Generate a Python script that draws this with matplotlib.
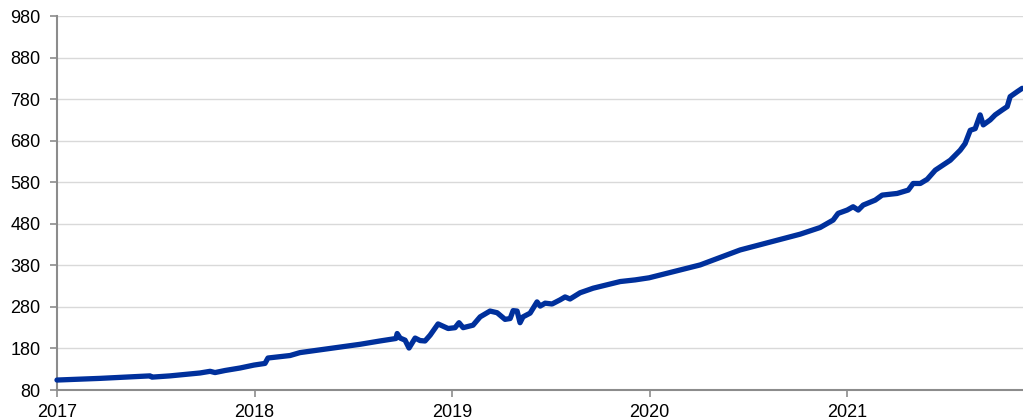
import matplotlib
matplotlib.use("Agg")
import matplotlib.pyplot as plt

plt.rcParams['font.family'] = ['Liberation Sans', 'DejaVu Sans']

# decimal-year positions and index values
years = [2017.000, 2017.218, 2017.471, 2017.481, 2017.572, 2017.724, 2017.775, 2017.800,
         2017.851, 2017.927, 2017.997, 2018.053, 2018.068, 2018.180, 2018.230, 2018.382,
         2018.534, 2018.635, 2018.716, 2018.722, 2018.737, 2018.762, 2018.782, 2018.813,
         2018.838, 2018.863, 2018.889, 2018.929, 2018.980, 2019.015, 2019.035, 2019.056,
         2019.106, 2019.142, 2019.192, 2019.228, 2019.268, 2019.294, 2019.309, 2019.329,
         2019.344, 2019.359, 2019.395, 2019.430, 2019.446, 2019.471, 2019.506, 2019.547,
         2019.572, 2019.597, 2019.648, 2019.714, 2019.851, 2019.927, 2019.997, 2020.256,
         2020.458, 2020.610, 2020.762, 2020.863, 2020.929, 2020.954, 2021.000, 2021.030,
         2021.056, 2021.081, 2021.142, 2021.177, 2021.253, 2021.309, 2021.334, 2021.370,
         2021.405, 2021.446, 2021.522, 2021.572, 2021.597, 2021.623, 2021.648, 2021.673,
         2021.689, 2021.724, 2021.749, 2021.785, 2021.810, 2021.825, 2021.861, 2021.886]
values = [104, 108, 114, 111, 114, 121, 125, 122,
          127, 133, 140, 144, 157, 163, 170, 180,
          190, 198, 204, 216, 205, 200, 181, 205,
          199, 198, 212, 239, 228, 230, 242, 230,
          236, 256, 270, 266, 250, 252, 271, 270,
          242, 256, 265, 292, 282, 289, 287, 297,
          304, 299, 314, 325, 341, 345, 350, 381,
          417, 436, 455, 471, 489, 505, 513, 521,
          513, 525, 537, 549, 553, 561, 577, 577,
          587, 609, 633, 657, 673, 705, 709, 742,
          718, 730, 742, 754, 762, 786, 798, 806]

x_ticks = [2017, 2018, 2019, 2020, 2021]
x_labels = ['2017', '2018', '2019', '2020', '2021']
y_ticks = list(range(80, 1000, 100))

fig = plt.figure(figsize=(10.23, 4.20), dpi=100)
ax = fig.add_axes([0.0557, 0.0714, 0.9443, 0.8905])

ax.plot(years, values, color='#00309c', linewidth=3.8, solid_joinstyle='round',
        solid_capstyle='round', zorder=3, clip_on=False)

ax.set_xlim(2017, 2021.89)
ax.set_ylim(80, 980)
ax.set_yticks(y_ticks)
ax.set_yticklabels([str(v) for v in y_ticks])
ax.set_xticks(x_ticks)
ax.set_xticklabels(x_labels)

ax.grid(axis='y', color='#d9d9d9', linewidth=1.0, zorder=0)
ax.grid(axis='x', visible=False)
for s in ['top', 'right']:
    ax.spines[s].set_visible(False)
for s in ['left', 'bottom']:
    ax.spines[s].set_color('#8c8c8c')
    ax.spines[s].set_linewidth(1.5)
ax.tick_params(axis='both', colors='#8c8c8c', labelcolor='black', labelsize=13,
               length=5, width=1.2, direction='out')
ax.tick_params(axis='y', pad=7)
ax.tick_params(axis='x', pad=5)

fig.savefig('out.png', dpi=100)
